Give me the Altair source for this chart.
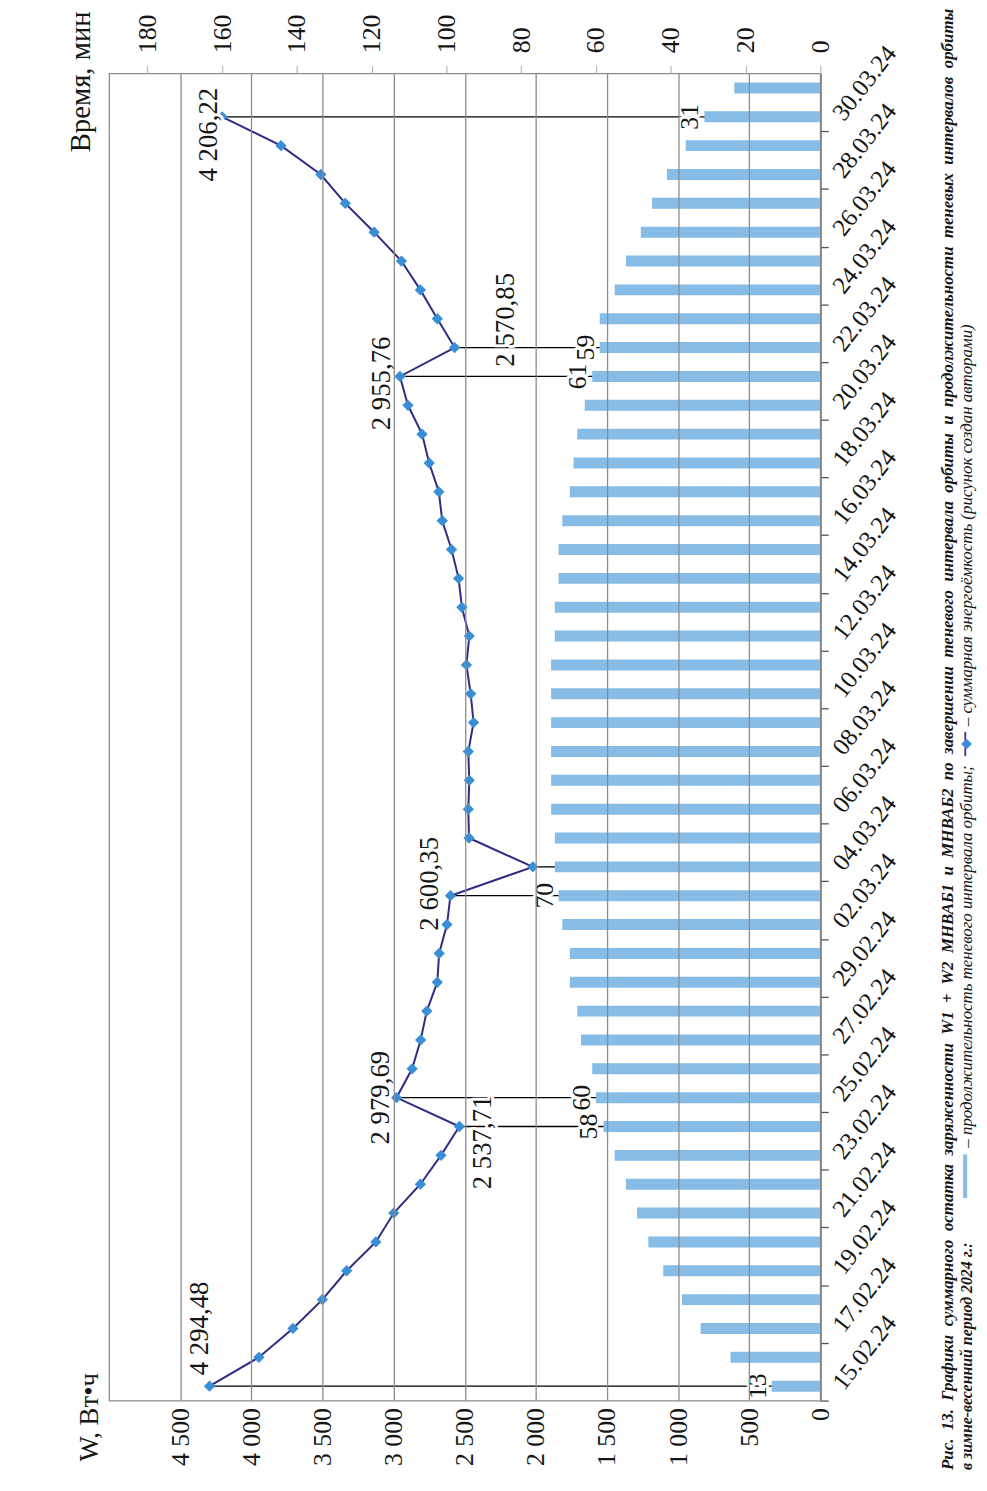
import altair as alt
import pandas as pd

# ---------------- data ----------------
DATES = [
    "15.02.24", "16.02.24", "17.02.24", "18.02.24", "19.02.24", "20.02.24", "21.02.24", "22.02.24",
    "23.02.24", "24.02.24", "25.02.24", "26.02.24", "27.02.24", "28.02.24", "29.02.24",
    "01.03.24", "02.03.24", "03.03.24", "04.03.24", "05.03.24", "06.03.24", "07.03.24", "08.03.24",
    "09.03.24", "10.03.24", "11.03.24", "12.03.24", "13.03.24", "14.03.24", "15.03.24", "16.03.24",
    "17.03.24", "18.03.24", "19.03.24", "20.03.24", "21.03.24", "22.03.24", "23.03.24", "24.03.24",
    "25.03.24", "26.03.24", "27.03.24", "28.03.24", "29.03.24", "30.03.24", "31.03.24",
]
# shadow interval duration, minutes (bars)
TIME_MIN = [
    13, 24, 32, 37, 42, 46, 49, 52, 55, 58, 60, 61, 64, 65, 67,
    67, 69, 70, 71, 71, 72, 72, 72, 72, 72, 72, 71, 71, 70, 70, 69,
    67, 66, 65, 63, 61, 59, 59, 55, 52, 48, 45, 41, 36, 31, 23,
]
# total charge W1 + W2, W*h (line)
W_TOTAL = [
    4294.48, 3947, 3708, 3501, 3330, 3125, 2999, 2812, 2667, 2537.71, 2979.69, 2870, 2810, 2767, 2693,
    2680, 2625, 2600.35, 2021, 2470, 2475, 2468, 2475, 2438, 2458, 2488, 2468, 2520, 2543, 2593, 2658,
    2682, 2750, 2800, 2899, 2955.76, 2570.85, 2693, 2812, 2945, 3137, 3340, 3512, 3792, 4206.22, None,
]
LEADER_IDX = [0, 9, 10, 17, 18, 35, 36, 44]
BAR_LABEL_IDX = [0, 9, 10, 17, 35, 36, 44]
W_LABEL_IDX = [0, 9, 10, 17, 35, 36, 44]
TIME_TICKS = [0, 20, 40, 60, 80, 100, 120, 140, 160, 180]
W_TICKS = [0, 500, 1000, 1500, 2000, 2500, 3000, 3500, 4000, 4500]
TIME_MAX = 190.2
W_MAX = 5000

CAPTION_1 = ("Рис. 13. Графики суммарного остатка заряженности W1 + W2 МНВАБ1 и МНВАБ2 "
             "по завершении теневого интервала орбиты и продолжительности теневых интервалов орбиты")
CAPTION_2 = "в зимне-весенний период 2024 г.:"
LEGEND_BAR = "– продолжительность теневого интервала орбиты;"
LEGEND_LINE = "– суммарная энергоёмкость (рисунок создан авторами)"


def fmt_ru(v):
    return f"{v:,.2f}".replace(",", " ").replace(".", ",")


df = pd.DataFrame({"idx": list(range(len(DATES))), "date": DATES, "time": TIME_MIN, "W": W_TOTAL})
df["W_label"] = [fmt_ru(w) if (i in W_LABEL_IDX and w is not None) else "" for i, w in zip(df["idx"], W_TOTAL)]

# ---------------- styling ----------------
FONT = "Liberation Serif"
BAR_COLOR = "#86bce6"
LINE_COLOR = "#2e2d83"
POINT_COLOR = "#3a8ed6"
TEXT_COLOR = "#161616"
PLOT_W, PLOT_H = 717, 1338
STEP = PLOT_H / len(DATES)

y_enc = alt.Y(
    "date:N", sort=DATES[::-1], title=None,
    scale=alt.Scale(paddingInner=0.62, paddingOuter=0.31),
    axis=alt.Axis(orient="right", values=DATES[::2], labelAngle=308, labelAlign="left",
                  labelBaseline="middle", labelFontSize=25, labelPadding=9, labelColor=TEXT_COLOR,
                  tickSize=8, tickColor="#555555", tickWidth=1.3,
                  tickOffset=STEP / 2, labelOffset=-STEP / 2,
                  domainColor="#555555", domainWidth=1.6, grid=False, labelOverlap=False),
)

xt_scale = alt.Scale(domain=[0, TIME_MAX], reverse=True, nice=False, zero=True)
xt_axis = alt.Axis(orient="top", values=TIME_TICKS, title="Время, мин",
                   labelAngle=270, labelAlign="left", labelBaseline="middle", labelPadding=13,
                   labelFontSize=26, labelColor=TEXT_COLOR, tickSize=8, tickColor="#aaaaaa",
                   domain=False, grid=False, labelFlush=False, labelOverlap=False,
                   titleAngle=270, titleAlign="left", titleBaseline="alphabetic",
                   titleX=-20, titleY=79, titleFontSize=29, titleFontWeight="normal",
                   titleColor=TEXT_COLOR)

xw_scale = alt.Scale(domain=[0, W_MAX], reverse=True, nice=False, zero=True)
xw_axis = alt.Axis(orient="bottom", values=W_TICKS,
                   labelExpr="replace(format(datum.value, ','), ',', ' ')",
                   title="W, Вт•ч", labelAngle=270, labelAlign="right", labelBaseline="middle",
                   labelPadding=7, labelFontSize=26, labelColor=TEXT_COLOR, ticks=False, domain=False,
                   grid=True, gridColor="#8c8c8c", gridWidth=1.3, labelFlush=False, labelOverlap=False,
                   titleAngle=270, titleAlign="left", titleBaseline="alphabetic",
                   titleX=-12, titleY=61, titleFontSize=27, titleFontWeight="normal",
                   titleColor=TEXT_COLOR, zindex=1)

XT = alt.X("time:Q", scale=xt_scale, axis=xt_axis)
XW = alt.X("W:Q", scale=xw_scale, axis=xw_axis)

base = alt.Chart(df)

# ---------- time-scale layer ----------
bars = base.mark_bar(color=BAR_COLOR).encode(x=XT, y=y_enc)

rules = base.transform_filter(
    alt.FieldOneOfPredicate(field="idx", oneOf=LEADER_IDX)
).transform_calculate(
    Wt=f"datum.W * {TIME_MAX} / {W_MAX}"
).mark_rule(color="black", strokeWidth=1.3).encode(
    x=alt.X("Wt:Q", scale=xt_scale, axis=xt_axis), x2="time:Q", y=y_enc
)

bar_lab_base = base.transform_filter(alt.FieldOneOfPredicate(field="idx", oneOf=BAR_LABEL_IDX))
bar_halo = bar_lab_base.mark_text(angle=270, align="center", baseline="alphabetic", dy=-6,
                                  fontSize=26, fill="white", stroke="white", strokeWidth=6,
                                  strokeJoin="round").encode(x=XT, y=y_enc, text="time:Q")
bar_text = bar_lab_base.mark_text(angle=270, align="center", baseline="alphabetic", dy=-6,
                                  fontSize=26, color=TEXT_COLOR).encode(x=XT, y=y_enc, text="time:Q")

layer_time = alt.layer(bars, rules, bar_halo, bar_text)

# ---------- W-scale layer ----------
line = base.mark_line(color=LINE_COLOR, strokeWidth=2).encode(x=XW, y=y_enc, order="idx:Q")
points = base.mark_point(shape="diamond", filled=True, size=130, color=POINT_COLOR, opacity=1).encode(
    x=XW, y=y_enc)

# label placement (align, dx along reading direction, dy across) per annotated point
W_LABEL_POS = {
    0: ("left", 11, -2),
    9: ("center", -16, 32),
    10: ("center", 0, -8),
    17: ("center", 12, -13),
    35: ("center", -7, -10),
    36: ("center", 28, 60),
    44: ("center", -18, -5),
}
w_label_layers = []
for i, (al, ddx, ddy) in W_LABEL_POS.items():
    sub = base.transform_filter(alt.datum.idx == i)
    w_label_layers.append(sub.mark_text(angle=270, align=al, baseline="alphabetic", dx=ddx, dy=ddy,
                                        fontSize=27, fill="white", stroke="white", strokeWidth=6,
                                        strokeJoin="round").encode(x=XW, y=y_enc, text="W_label:N"))
    w_label_layers.append(sub.mark_text(angle=270, align=al, baseline="alphabetic", dx=ddx, dy=ddy,
                                        fontSize=27, color=TEXT_COLOR).encode(x=XW, y=y_enc,
                                                                               text="W_label:N"))

layer_w = alt.layer(line, points, *w_label_layers)

# ---------- caption (figure legend) ----------
one = alt.Chart(pd.DataFrame({"k": [0]}))
SP = " \u00a0"  # stretched word spacing of the justified first caption line
cap1 = one.mark_text(text=SP.join(CAPTION_1.split(" ")), angle=270, align="left", baseline="alphabetic",
                     fontSize=17, fontStyle="italic", fontWeight="bold", color=TEXT_COLOR).encode(
    x=alt.value(851), y=alt.value(1408))
cap2 = one.mark_text(text=CAPTION_2, angle=270, align="left", baseline="alphabetic",
                     fontSize=16, fontStyle="italic", fontWeight="bold", color=TEXT_COLOR).encode(
    x=alt.value(870), y=alt.value(1408))
sw_bar = one.mark_text(text="━━━", angle=270, align="center", baseline="middle", font="DejaVu Sans",
                       fontSize=24, color=BAR_COLOR).encode(x=alt.value(864), y=alt.value(1112))
leg1 = one.mark_text(text=LEGEND_BAR, angle=270, align="left", baseline="alphabetic",
                     fontSize=17, fontStyle="italic", color=TEXT_COLOR).encode(
    x=alt.value(870), y=alt.value(1083))
sw_line = one.mark_text(text="──", angle=270, align="center", baseline="middle", font="DejaVu Sans",
                        fontSize=20, color=LINE_COLOR).encode(x=alt.value(864), y=alt.value(676))
sw_mark = one.mark_text(text="◆", angle=270, align="center", baseline="middle", font="DejaVu Sans",
                        fontSize=14, color=POINT_COLOR).encode(x=alt.value(864), y=alt.value(676))
leg2 = one.mark_text(text=LEGEND_LINE, angle=270, align="left", baseline="alphabetic",
                     fontSize=17, fontStyle="italic", color=TEXT_COLOR).encode(
    x=alt.value(870), y=alt.value(658))

caption = alt.layer(cap1, cap2, sw_bar, leg1, sw_line, sw_mark, leg2)

chart = alt.layer(layer_time, layer_w, caption).resolve_scale(x="independent").properties(
    width=PLOT_W, height=PLOT_H,
    autosize=alt.AutoSizeParams(type="none"),
    padding={"left": 102, "top": 60, "right": 160, "bottom": 72},
    background="white",
).configure_view(
    stroke="#8c8c8c", strokeWidth=1.3
).configure_axis(
    labelFont=FONT, titleFont=FONT
).configure_text(font=FONT)

chart.save("out.html", embed_options={"renderer": "svg", "actions": False})
